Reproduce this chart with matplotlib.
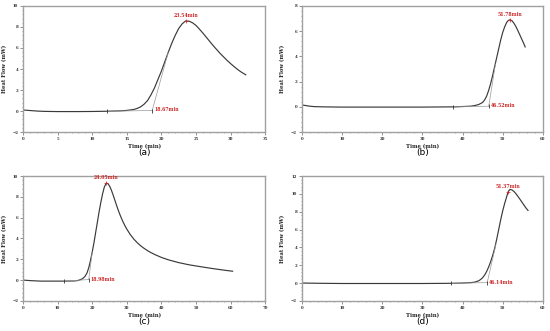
import numpy as np
import matplotlib.pyplot as plt

# (a)
t_a = [0, 1, 2, 3, 5, 8, 10, 12, 14, 15, 16, 16.5, 17, 17.5, 18, 18.5, 19, 19.5, 20, 20.5, 21, 21.5, 22,
       22.5, 23, 23.5, 24, 24.5, 25, 25.5, 26, 26.5, 27, 27.5, 28, 28.5, 29, 29.5, 30, 30.5, 31, 31.5, 32.2]
h_a = [0.1, 0.05, 0.0, -0.03, -0.05, -0.05, -0.04, -0.02, 0.02, 0.06, 0.15, 0.25, 0.4, 0.65, 1.0, 1.55, 2.2,
       3.0, 3.8, 4.7, 5.6, 6.45, 7.2, 7.85, 8.3, 8.57, 8.55, 8.4, 8.15, 7.8, 7.42, 7.02, 6.62, 6.22, 5.85,
       5.48, 5.15, 4.82, 4.52, 4.24, 3.97, 3.73, 3.45]
# (b)
t_b = [0, 1, 2, 3, 5, 10, 20, 30, 38, 42, 43, 44, 45, 45.5, 46, 46.5, 47, 47.5, 48, 48.5, 49, 49.5,
       50, 50.5, 51, 51.4, 51.8, 52.2, 52.7, 53.2, 53.7, 54.2, 54.7, 55.2, 55.6]
h_b = [0.15, 0.1, 0.05, 0.02, 0.0, -0.02, -0.02, -0.02, 0.0, 0.05, 0.1, 0.18, 0.35, 0.55, 0.85, 1.3, 1.85,
       2.5, 3.2, 3.9, 4.6, 5.3, 5.9, 6.35, 6.7, 6.85, 6.9, 6.85, 6.68, 6.42, 6.1, 5.75, 5.4, 5.05, 4.75]
# (c)
t_c = [0, 2, 5, 8, 12, 15, 16, 17, 17.5, 18, 18.5, 19, 19.5, 20, 20.5, 21, 21.5, 22, 22.5, 23, 23.5, 24.05,
       24.5, 25, 25.5, 26, 26.5, 27, 27.5, 28, 28.5, 29, 29.5, 30, 31, 32, 33, 34, 35, 36, 37, 38, 40, 42,
       45, 48, 50, 53, 55, 58, 60.6]
h_c = [0.0, -0.05, -0.1, -0.1, -0.1, -0.08, -0.03, 0.1, 0.22, 0.4, 0.7, 1.2, 1.9, 2.7, 3.6, 4.6, 5.6, 6.6,
       7.5, 8.3, 8.95, 9.32, 9.28, 9.05, 8.68, 8.22, 7.72, 7.22, 6.74, 6.3, 5.9, 5.53, 5.2, 4.9, 4.38, 3.95,
       3.6, 3.3, 3.05, 2.83, 2.64, 2.47, 2.18, 1.95, 1.68, 1.47, 1.36, 1.2, 1.1, 0.96, 0.85]
# (d)
t_d = [0, 5, 10, 20, 30, 37, 40, 42, 43, 44, 44.5, 45, 45.5, 46, 46.5, 47, 47.5, 48, 48.5, 49, 49.5, 50,
       50.5, 51, 51.37, 51.8, 52.3, 52.8, 53.3, 53.8, 54.3, 54.8, 55.3, 55.8, 56.3]
h_d = [0.0, -0.03, -0.05, -0.05, -0.05, -0.03, 0.0, 0.05, 0.1, 0.25, 0.4, 0.6, 0.9, 1.3, 1.8, 2.4, 3.1, 3.9,
       4.9, 6.0, 7.1, 8.1, 8.95, 9.7, 10.25, 10.5, 10.45, 10.28, 10.02, 9.72, 9.4, 9.07, 8.74, 8.42, 8.15]

onset = [18.67, 46.52, 18.98, 46.14]
peak = [23.54, 51.78, 24.05, 51.37]
mark = [12.2, 37.6, 11.9, 37.2]
# tangent end points (time, heat flow) on the rising edge
tan_end = [(21.0, 5.6), (48.2, 3.4), (20.0, 2.7), (48.3, 4.3)]

xlims = [(0, 35), (0, 60), (0, 70), (0, 60)]
ylims = [(-2, 10), (-2, 8), (-2, 10), (-2, 12)]
xsteps = [5, 10, 10, 10]
captions = ['(a)', '(b)', '(c)', '(d)']

pos = [[0.042, 0.601, 0.440, 0.381], [0.549, 0.601, 0.438, 0.381],
       [0.042, 0.091, 0.440, 0.377], [0.549, 0.091, 0.438, 0.377]]

fig = plt.figure(figsize=(5.5, 3.31), dpi=100)
data = [(t_a, h_a), (t_b, h_b), (t_c, h_c), (t_d, h_d)]

for i in range(4):
    ax = fig.add_axes(pos[i])
    t, h = data[i]
    ax.plot(t, h, color='#3a3a3a', lw=0.85)

    # baseline + tangent construction
    ax.plot([mark[i], onset[i]], [np.interp(mark[i], t, h), 0.05], color='#999999', lw=0.5)
    ax.plot([onset[i], tan_end[i][0]], [0.05, tan_end[i][1]], color='#999999', lw=0.5)
    ax.plot([mark[i]], [np.interp(mark[i], t, h)], marker='|', ms=3, mew=0.6, color='#333333')
    ax.plot([onset[i]], [0.05], marker='|', ms=3, mew=0.6, color='#333333')
    pk = np.interp(peak[i], t, h)
    ax.plot([peak[i]], [pk], marker='+', ms=3, mew=0.5, color='#cc2222')

    ax.text(onset[i] + xlims[i][1] * 0.008, 0.1, '%.2fmin' % onset[i], color='#cc2222',
            fontsize=3.3, family='DejaVu Serif', weight='bold', va='center', ha='left')
    ax.text(peak[i], pk + (ylims[i][1] - ylims[i][0]) * 0.025, '%.2fmin' % peak[i], color='#cc2222',
            fontsize=3.3, family='DejaVu Serif', weight='bold', va='bottom', ha='center')

    ax.set_xlim(xlims[i])
    ax.set_ylim(ylims[i])
    ax.set_xticks(np.arange(xlims[i][0], xlims[i][1] + 0.1, xsteps[i]))
    ax.set_yticks(np.arange(ylims[i][0], ylims[i][1] + 0.1, 2))
    ax.set_xticks(np.arange(xlims[i][0], xlims[i][1] + 0.1, xsteps[i] / 5), minor=True)
    ax.set_yticks(np.arange(ylims[i][0], ylims[i][1] + 0.1, 0.4), minor=True)
    ax.tick_params(which='major', length=2, width=0.5, color='#666666', labelsize=2.8,
                   labelcolor='#333333', pad=1.5, direction='out')
    ax.tick_params(which='minor', length=1, width=0.4, color='#666666', direction='out')
    for lab in ax.get_xticklabels() + ax.get_yticklabels():
        lab.set_family('DejaVu Serif')
        lab.set_weight('bold')
    for s in ax.spines.values():
        s.set_color('#a0a0a0')
        s.set_linewidth(1.0)
    ax.set_xlabel('Time (min)', fontsize=3.8, family='DejaVu Serif', weight='bold', labelpad=2,
                  color='#222222')
    ax.set_ylabel('Heat Flow (mW)', fontsize=3.8, family='DejaVu Serif', weight='bold', labelpad=4,
                  color='#222222')

    cx = pos[i][0] + pos[i][2] / 2
    cy = pos[i][1] - 0.062
    fig.text(cx, cy, captions[i], fontsize=6.5, ha='center', va='center', family='DejaVu Sans')

fig.savefig('out.png', dpi=100)
